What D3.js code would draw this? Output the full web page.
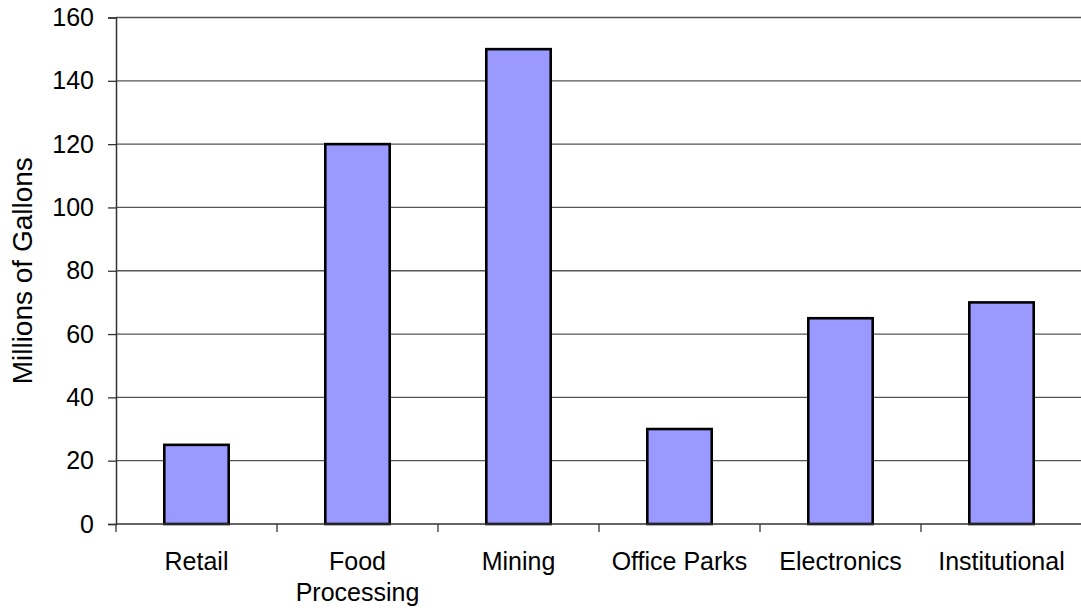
<!DOCTYPE html>
<html><head><meta charset="utf-8">
<script src="https://cdn.jsdelivr.net/npm/d3@7"></script>
<style>body{margin:0;background:#fff}svg{display:block}text{font-family:"Liberation Sans",Arial,sans-serif;fill:#000}</style>
</head><body>
<svg id="c" width="1081" height="611"></svg>
<script>
const categories = ["Retail", "Food Processing", "Mining", "Office Parks", "Electronics", "Institutional"];
const categoryLines = [["Retail"], ["Food", "Processing"], ["Mining"], ["Office Parks"], ["Electronics"], ["Institutional"]];
const values = [25, 120, 150, 30, 65, 70];
const yTicks = [0, 20, 40, 60, 80, 100, 120, 140, 160];
const yTitle = "Millions of Gallons";

(function () {
const svg = d3.select("#c");
const pL = 116, pR = 1082, pT = 17.5, pB = 524;
const x = d3.scaleBand().domain(categories).range([pL, pR]).padding(0);
const y = d3.scaleLinear().domain([0, 160]).range([pB, pT]);

// gridlines
svg.append("g").selectAll("line").data(yTicks.filter(d => d > 0)).join("line")
  .attr("x1", pL).attr("x2", 1081).attr("y1", d => y(d)).attr("y2", d => y(d))
  .attr("stroke", "#555").attr("stroke-width", 1.3);

// bars
const bw = x.bandwidth() * 0.4;
svg.append("g").selectAll("rect").data(values).join("rect")
  .attr("x", (d, i) => x(categories[i]) + (x.bandwidth() - bw) / 2)
  .attr("y", d => y(d)).attr("width", bw).attr("height", d => y(0) - y(d))
  .attr("fill", "#9999ff").attr("stroke", "#000").attr("stroke-width", 2.6);

// y axis
const ya = svg.append("g").attr("transform", `translate(${pL},0)`)
  .call(d3.axisLeft(y).tickValues(yTicks).tickSize(8).tickPadding(14));
ya.select(".domain").attr("stroke", "#333").attr("stroke-width", 1.5);
ya.selectAll(".tick line").attr("stroke", "#333").attr("stroke-width", 1.3);
ya.selectAll(".tick text").attr("font-size", 25).attr("font-family", "Liberation Sans, Arial, sans-serif").attr("fill", "#000");

// x axis baseline and ticks
svg.append("line").attr("x1", pL).attr("x2", 1081).attr("y1", pB).attr("y2", pB)
  .attr("stroke", "#333").attr("stroke-width", 1.5);
const bounds = categories.map(c => x(c));
svg.append("g").selectAll("line").data(bounds).join("line")
  .attr("x1", d => d).attr("x2", d => d).attr("y1", pB).attr("y2", pB + 8)
  .attr("stroke", "#333").attr("stroke-width", 1.3);

// category labels
const lab = svg.append("g").selectAll("text").data(categories).join("text")
  .attr("x", d => x(d) + x.bandwidth() / 2).attr("y", 570)
  .attr("text-anchor", "middle").attr("font-size", 25);
lab.each(function(d, i) {
  const t = d3.select(this);
  categoryLines[i].forEach((s, j) => {
    t.append("tspan").attr("x", x(d) + x.bandwidth() / 2).attr("dy", j === 0 ? 0 : 31).text(s);
  });
});

// y title
svg.append("text").attr("transform", `translate(32,${(pT + pB) / 2}) rotate(-90)`)
  .attr("text-anchor", "middle").attr("font-size", 28).text(yTitle);
})();
</script>
</body></html>
